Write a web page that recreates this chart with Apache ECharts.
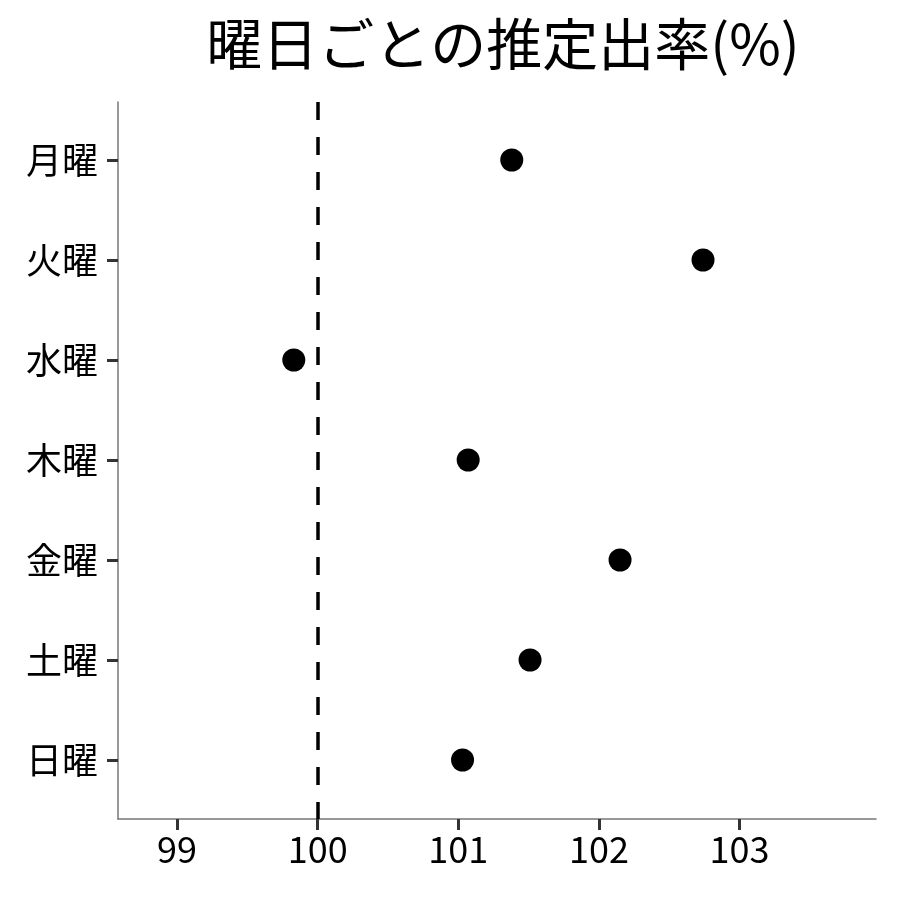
<!DOCTYPE html>
<html><head><meta charset="utf-8">
<script src="https://cdn.jsdelivr.net/npm/echarts@6/dist/echarts.min.js"></script>
<style>html,body{margin:0;padding:0;background:#fff}#c{width:900px;height:900px}</style>
</head><body><div id="c"></div>
<script>
const titleText = '曜日ごとの推定出率(%)';
const days = ['月曜','火曜','水曜','木曜','金曜','土曜','日曜'];
const rates = [101.38, 102.74, 99.83, 101.07, 102.15, 101.51, 101.03];
const xTicks = [99, 100, 101, 102, 103];
const refValue = 100;

const FONT = '"Noto Sans CJK JP", "Noto Sans", sans-serif';
const chart = echarts.init(document.getElementById('c'), null, {renderer: 'canvas'});
chart.setOption({
  animation: false,
  backgroundColor: '#fff',
  title: {
    text: titleText, left: 498, top: 11, textAlign: 'center',
    textStyle: {fontFamily: FONT, fontSize: 56, fontWeight: 'normal', color: '#000'}
  },
  grid: {left: 118, right: 24, top: 102, bottom: 81, containLabel: false},
  xAxis: {
    type: 'value', min: 98.58, max: 103.97,
    axisLine: {show: true, onZero: false, lineStyle: {color: '#777', width: 1.5}},
    axisTick: {show: true, customValues: xTicks, length: 11, lineStyle: {color: '#333', width: 3}},
    axisLabel: {customValues: xTicks, fontFamily: FONT, fontSize: 36, color: '#000', margin: 12},
    splitLine: {show: false}
  },
  yAxis: {
    type: 'value', inverse: true, min: -0.58, max: 6.59,
    axisLine: {show: true, onZero: false, lineStyle: {color: '#777', width: 1.5}},
    axisTick: {show: true, customValues: days.map((d, i) => i), length: 11, lineStyle: {color: '#333', width: 3}},
    axisLabel: {customValues: days.map((d, i) => i), formatter: v => days[Math.round(v)] || '',
      fontFamily: FONT, fontSize: 36, color: '#000', margin: 20},
    splitLine: {show: false}
  },
  series: [{
    type: 'scatter',
    data: rates.map((r, i) => [r, i]),
    symbolSize: 23,
    itemStyle: {color: '#000', opacity: 1},
    markLine: {
      silent: true, symbol: 'none', label: {show: false},
      lineStyle: {color: '#000', width: 3.5, type: [18, 17], opacity: 1},
      emphasis: {disabled: true},
      data: [{xAxis: refValue}]
    }
  }]
});
</script></body></html>
